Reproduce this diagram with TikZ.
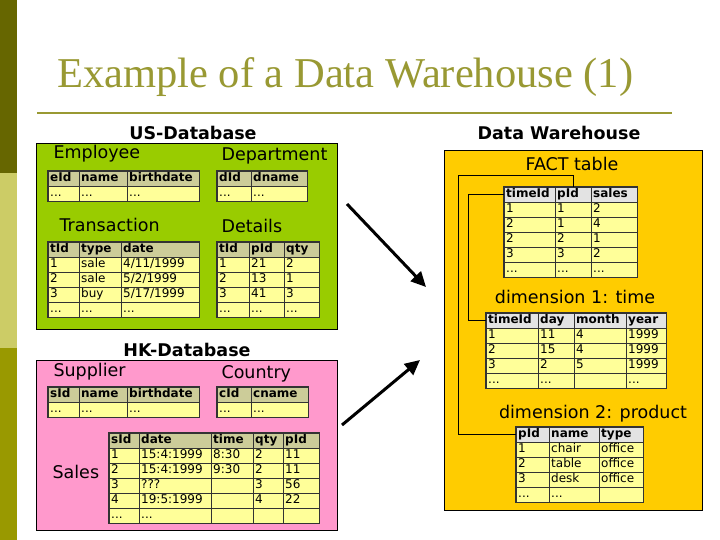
\documentclass[tikz,border=0pt]{standalone}
\usepackage{fontspec}
\setmainfont{Liberation Serif}
\setsansfont{DejaVu Sans}
\usepackage{xcolor}
\usepackage{tikz}
\usetikzlibrary{arrows.meta, matrix}

\definecolor{bandDark}{HTML}{666600}
\definecolor{bandLight}{HTML}{CCCC66}
\definecolor{bandMid}{HTML}{999900}
\definecolor{titleOlive}{HTML}{999933}
\definecolor{usGreen}{HTML}{99CC00}
\definecolor{hkPink}{HTML}{FF99CC}
\definecolor{dwOrange}{HTML}{FFCC00}
\definecolor{cellYellow}{HTML}{FFFF99}
\definecolor{hdrKhaki}{HTML}{CCCC99}
\definecolor{hdrGray}{HTML}{E3E3E3}
\definecolor{gridDark}{HTML}{333333}

\newcommand\tblfont{\sffamily\fontsize{12}{14}\selectfont}
\newcommand\tblhdfont{\sffamily\bfseries\fontsize{12}{14}\selectfont}
\newcommand\lblfont{\sffamily\fontsize{17.5}{20}\selectfont}

\begin{document}
\begin{tikzpicture}[
    x=1pt, y=-1pt,
    tbl/.style={
        matrix of nodes,
        nodes in empty cells,
        inner sep=0pt,
        draw=gridDark, line width=1.6pt,
        column sep=-0.8pt, row sep=-0.8pt,
        anchor=north west,
        nodes={
            draw=gridDark, line width=0.8pt, fill=cellYellow,
            minimum height=15pt, text height=8.5pt, text depth=2.5pt,
            inner xsep=2pt, align=left, font=\tblfont
        },
        row 1/.style={nodes={fill=hdrKhaki, font=\tblhdfont}}
    },
    dwtbl/.style={tbl, row 1/.style={nodes={fill=hdrGray, font=\tblhdfont}}},
    w1/.style={column 1/.style={nodes={text width=#1pt}}},
    w2/.style={column 2/.style={nodes={text width=#1pt}}},
    w3/.style={column 3/.style={nodes={text width=#1pt}}},
    w4/.style={column 4/.style={nodes={text width=#1pt}}},
    w5/.style={column 5/.style={nodes={text width=#1pt}}},
    region/.style={draw=black, line width=0.6pt, anchor=north west, inner sep=0pt},
    dbname/.style={font=\lblfont\bfseries, anchor=base},
    tblname/.style={font=\lblfont, anchor=base west},
    feed/.style={-{Triangle[length=15pt,width=14pt]}, line width=3pt},
    link/.style={line width=0.9pt}
]
\useasboundingbox (0,0) rectangle (720,540);
\fill[white] (0,0) rectangle (720,540);

% side band and title
\fill[bandDark] (0,0) rectangle (17,173);
\fill[bandLight] (0,173) rectangle (17,348);
\fill[bandMid] (0,348) rectangle (17,540);
\node[font=\fontsize{42.5}{46}\selectfont, text=titleOlive, anchor=base west, inner sep=0pt] (title) at (57,88) {Example of a Data Warehouse (1)};
\draw[titleOlive, line width=2pt] (37,113) -- (672,113);

% regions
\node[region, fill=usGreen, minimum width=301pt, minimum height=186pt] (usdb) at (36,143) {};
\node[region, fill=hkPink, minimum width=301pt, minimum height=170pt] (hkdb) at (36,360) {};
\node[region, fill=dwOrange, minimum width=258pt, minimum height=360pt] (dw) at (444,150) {};

\node[dbname] (ustitle) at (193,140) {US-Database};
\node[dbname] (hktitle) at (187,356) {HK-Database};
\node[dbname] (dwtitle) at (559,140) {Data Warehouse};

% US-Database
\node[tblname] (emplbl) at (50,159) {Employee};
\node[tblname] (deptlbl) at (218,161) {Department};
\node[tblname] (translbl) at (56,231) {Transaction};
\node[tblname] (detlbl) at (218,233) {Details};

\matrix[tbl, w1=27, w2=44, w3=68] (emp) at (47,170) {
    eId & name & birthdate \\
    ... & ... & ... \\
};
\matrix[tbl, w1=30, w2=52] (dept) at (216,170) {
    dId & dname \\
    ... & ... \\
};
\matrix[tbl, w1=27, w2=38, w3=74] (trans) at (47,241) {
    tId & type & date \\
    1 & sale & 4/11/1999 \\
    2 & sale & 5/2/1999 \\
    3 & buy & 5/17/1999 \\
    ... & ... & ... \\
};
\matrix[tbl, w1=28, w2=31, w3=31] (details) at (216,241) {
    tId & pId & qty \\
    1 & 21 & 2 \\
    2 & 13 & 1 \\
    3 & 41 & 3 \\
    ... & ... & ... \\
};

% HK-Database
\node[tblname] (supplbl) at (50,376) {Supplier};
\node[tblname] (ctrylbl) at (218,378) {Country};
\node[tblname] (saleslbl) at (49,478) {Sales};

\matrix[tbl, w1=27, w2=44, w3=68] (supp) at (47,386) {
    sId & name & birthdate \\
    ... & ... & ... \\
};
\matrix[tbl, w1=30, w2=53] (country) at (216,386) {
    cId & cname \\
    ... & ... \\
};
\matrix[tbl, w1=26, w2=68, w3=38, w4=26, w5=32] (sales) at (108,432) {
    sId & date & time & qty & pId \\
    1 & 15:4:1999 & 8:30 & 2 & 11 \\
    2 & 15:4:1999 & 9:30 & 2 & 11 \\
    3 & ??? & & 3 & 56 \\
    4 & 19:5:1999 & & 4 & 22 \\
    ... & ... & & & \\
};

% Data Warehouse
\node[font=\lblfont, anchor=base] (factlbl) at (572,171) {FACT table};
\node[font=\lblfont, anchor=base] (timelbl) at (575,303) {dimension 1: time};
\node[font=\lblfont, anchor=base] (prodlbl) at (593,418) {dimension 2: product};

\matrix[dwtbl, w1=47, w2=32, w3=42] (fact) at (503,186) {
    timeId & pId & sales \\
    1 & 1 & 2 \\
    2 & 1 & 4 \\
    2 & 2 & 1 \\
    3 & 3 & 2 \\
    ... & ... & ... \\
};
\matrix[dwtbl, w1=48, w2=32, w3=48, w4=36] (time) at (485,312) {
    timeId & day & month & year \\
    1 & 11 & 4 & 1999 \\
    2 & 15 & 4 & 1999 \\
    3 & 2 & 5 & 1999 \\
    ... & ... & & ... \\
};
\matrix[dwtbl, w1=29, w2=46, w3=40] (prod) at (515,426) {
    pId & name & type \\
    1 & chair & office \\
    2 & table & office \\
    3 & desk & office \\
    ... & ... & \\
};

\draw[link] (fact-1-1.west) -- ++(-35,0) |- (time-1-1.west);
\draw[link] (fact-1-2.north) |- (458,175) |- (prod-1-1.west);

% loading arrows
\coordinate (usout) at (347,204);
\coordinate (dwin1) at (426,287);
\coordinate (hkout) at (342,425);
\coordinate (dwin2) at (420,360);
\draw[feed] (usout) -- (dwin1);
\draw[feed] (hkout) -- (dwin2);

\end{tikzpicture}
\end{document}
